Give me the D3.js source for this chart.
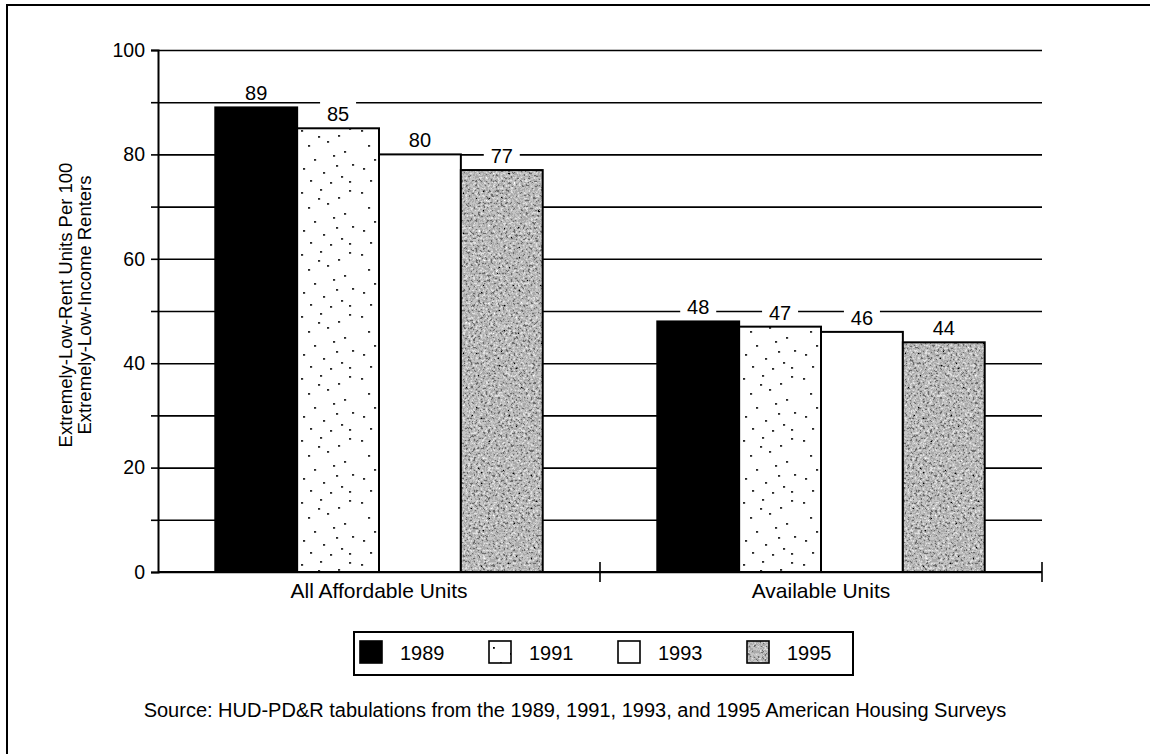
<!DOCTYPE html>
<html>
<head>
<meta charset="utf-8">
<script src="https://cdn.jsdelivr.net/npm/d3@7/dist/d3.min.js"></script>
<style>
  body { margin: 0; background: #fff; }
  svg text { font-family: "Liberation Sans", Arial, Helvetica, sans-serif; fill: #000; }
</style>
</head>
<body>
<div id="chart"></div>
<script>
// data
var categories = ["All Affordable Units", "Available Units"];
var years = ["1989", "1991", "1993", "1995"];
var allAffordable = [89, 85, 80, 77];
var availableUnits = [48, 47, 46, 44];
var yTicks = [0, 20, 40, 60, 80, 100];
var sourceNote = "Source: HUD-PD&R tabulations from the 1989, 1991, 1993, and 1995 American Housing Surveys";

var width = 1150, height = 754;
var plotLeft = 158, plotRight = 1042, plotTop = 50, plotBottom = 572;

var svg = d3.select("#chart").append("svg")
  .attr("width", width)
  .attr("height", height);

var defs = svg.append("defs");

// sparse dots for 1991
var dots = [[4,6],[23,3],[41,11],[52,4],[11,21],[30,17],[47,27],[17,35],[36,31],[55,40],
            [6,44],[26,48],[44,52],[13,56],[33,58],[52,57],[21,12],[39,41]];
var pat = defs.append("pattern")
  .attr("id", "dots")
  .attr("patternUnits", "userSpaceOnUse")
  .attr("width", 60).attr("height", 62);
pat.append("rect").attr("width", 60).attr("height", 62).attr("fill", "#fff");
pat.selectAll("rect.d").data(dots).enter().append("rect")
  .attr("class", "d")
  .attr("x", function(d) { return d[0]; })
  .attr("y", function(d) { return d[1]; })
  .attr("width", 1.8).attr("height", 1.8)
  .attr("fill", "#000");

// grainy grey texture for 1995
var f = defs.append("filter")
  .attr("id", "grain")
  .attr("filterUnits", "objectBoundingBox")
  .attr("x", 0).attr("y", 0).attr("width", 1).attr("height", 1);
f.append("feTurbulence")
  .attr("type", "fractalNoise")
  .attr("baseFrequency", 0.4)
  .attr("numOctaves", 4)
  .attr("seed", 7)
  .attr("result", "t");
f.append("feColorMatrix")
  .attr("in", "t")
  .attr("type", "matrix")
  .attr("values", "1 0 0 0 0  1 0 0 0 0  1 0 0 0 0  0 0 0 0 1")
  .attr("result", "g");
var ct = f.append("feComponentTransfer").attr("in", "g").attr("result", "q");
["feFuncR", "feFuncG", "feFuncB"].forEach(function(n) {
  ct.append(n).attr("type", "discrete").attr("tableValues", "0 0.15 0.4 0.55 0.75 1");
});
f.append("feComposite").attr("in", "q").attr("in2", "SourceGraphic").attr("operator", "in");

// outer frame
svg.append("path")
  .attr("d", "M7,754V5H1150")
  .attr("fill", "none")
  .attr("stroke", "#000")
  .attr("stroke-width", 2);

var y = d3.scaleLinear().domain([0, 100]).range([plotBottom, plotTop]);
var x0 = d3.scaleBand().domain(categories).range([plotLeft, plotRight]);
var x1 = d3.scaleBand().domain(years).range([0, x0.bandwidth()]).paddingOuter(0.7);

// gridlines every 10
svg.append("g")
  .attr("transform", "translate(" + plotLeft + ",0)")
  .call(d3.axisLeft(y).tickValues(d3.range(0, 101, 10)).tickSize(7).tickFormat(""))
  .call(function(g) { g.select(".domain").remove(); })
  .call(function(g) {
    g.selectAll(".tick line").clone()
      .attr("x2", plotRight - plotLeft)
      .attr("stroke-width", 1.6);
    g.selectAll(".tick line").attr("stroke-width", 1.6);
  });

// y axis labels
svg.append("g")
  .attr("transform", "translate(" + plotLeft + ",0)")
  .call(d3.axisLeft(y).tickValues(yTicks).tickSize(7).tickPadding(6))
  .call(function(g) {
    g.select(".domain").attr("stroke-width", 2);
    g.selectAll(".tick line").remove();
    g.selectAll(".tick text")
      .attr("font-size", 19.5)
      .attr("font-family", "'Liberation Sans', Arial, sans-serif")
      .attr("fill", "#000");
  });

var fills = { "1989": "#000", "1991": "url(#dots)", "1993": "#fff", "1995": "#777" };
var groups = [allAffordable, availableUnits];

var rows = [];
categories.forEach(function(c, i) {
  years.forEach(function(yr, j) {
    rows.push({ cat: c, year: yr, value: groups[i][j] });
  });
});

var bars = svg.append("g").selectAll("g")
  .data(rows).enter().append("g")
  .attr("transform", function(d) { return "translate(" + (x0(d.cat) + x1(d.year)) + ",0)"; });

bars.append("rect")
  .attr("x", 0)
  .attr("y", function(d) { return y(d.value); })
  .attr("width", x1.bandwidth())
  .attr("height", function(d) { return y(0) - y(d.value); })
  .attr("fill", function(d) { return d.year == "1995" ? "#fff" : fills[d.year]; });

bars.filter(function(d) { return d.year == "1995"; }).append("rect")
  .attr("x", 0)
  .attr("y", function(d) { return y(d.value); })
  .attr("width", x1.bandwidth())
  .attr("height", function(d) { return y(0) - y(d.value); })
  .attr("fill", "#000")
  .attr("filter", "url(#grain)");

bars.append("rect")
  .attr("x", 0)
  .attr("y", function(d) { return y(d.value); })
  .attr("width", x1.bandwidth())
  .attr("height", function(d) { return y(0) - y(d.value); })
  .attr("fill", "none")
  .attr("stroke", "#000")
  .attr("stroke-width", 2);

// value labels with white knockout
bars.append("rect")
  .attr("x", x1.bandwidth() / 2 - 18)
  .attr("y", function(d) { return y(d.value) - 27; })
  .attr("width", 36)
  .attr("height", 21)
  .attr("fill", "#fff");

bars.append("text")
  .attr("x", x1.bandwidth() / 2)
  .attr("y", function(d) { return y(d.value) - 7; })
  .attr("text-anchor", "middle")
  .attr("font-size", 20)
  .text(function(d) { return d.value; });

// x axis
var xAxis = svg.append("g")
  .attr("transform", "translate(0," + plotBottom + ")")
  .call(d3.axisBottom(x0).tickSize(0).tickPadding(11))
  .call(function(g) {
    g.select(".domain").attr("d", "M" + plotLeft + ",0H" + plotRight).attr("stroke-width", 2);
    g.selectAll(".tick text")
      .attr("font-size", 21)
      .attr("font-family", "'Liberation Sans', Arial, sans-serif")
      .attr("fill", "#000");
  });

xAxis.selectAll("line.sep")
  .data(categories).enter().append("line")
  .attr("class", "sep")
  .attr("x1", function(d) { return x0(d) + x0.bandwidth(); })
  .attr("x2", function(d) { return x0(d) + x0.bandwidth(); })
  .attr("y1", -10).attr("y2", 10)
  .attr("stroke", "#000")
  .attr("stroke-width", 1.6);

// y axis title
svg.append("text")
  .attr("transform", "translate(65,305) rotate(-90)")
  .attr("text-anchor", "middle")
  .attr("font-size", 18.5)
  .selectAll("tspan")
  .data(["Extremely-Low-Rent Units Per 100", "Extremely-Low-Income Renters"])
  .enter().append("tspan")
  .attr("x", 0)
  .attr("dy", function(d, i) { return i ? 19 : 0; })
  .attr("dominant-baseline", "central")
  .text(function(d) { return d; });

// legend
var legX = d3.scaleBand().domain(years).range([360, 360 + 129 * 4]);
svg.append("rect")
  .attr("x", 354).attr("y", 632)
  .attr("width", 499).attr("height", 43)
  .attr("fill", "#fff")
  .attr("stroke", "#000")
  .attr("stroke-width", 2);

var leg = svg.append("g").selectAll("g")
  .data(years).enter().append("g")
  .attr("transform", function(d) { return "translate(" + legX(d) + ",641)"; });

leg.append("rect")
  .attr("width", 22).attr("height", 22)
  .attr("fill", function(d) { return d == "1995" ? "#fff" : fills[d]; });
leg.filter(function(d) { return d == "1995"; }).append("rect")
  .attr("width", 22).attr("height", 22)
  .attr("fill", "#000")
  .attr("filter", "url(#grain)");
leg.append("rect")
  .attr("width", 22).attr("height", 22)
  .attr("fill", "none")
  .attr("stroke", "#000")
  .attr("stroke-width", 1.6);
leg.append("text")
  .attr("x", 40).attr("y", 19)
  .attr("font-size", 20)
  .text(function(d) { return d; });

// source note
svg.append("text")
  .attr("x", 575).attr("y", 717)
  .attr("text-anchor", "middle")
  .attr("font-size", 20)
  .text(sourceNote);
</script>
</body>
</html>
